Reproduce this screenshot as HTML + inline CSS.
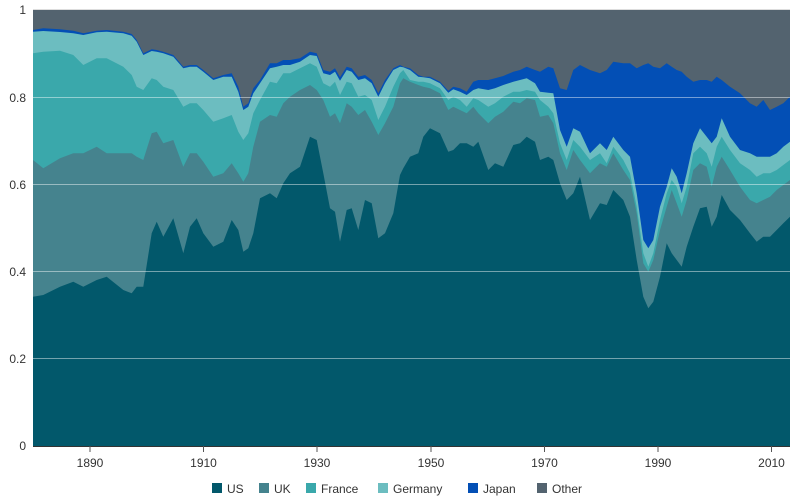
<!DOCTYPE html>
<html><head><meta charset="utf-8"><style>
body{margin:0;background:#fff;font-family:"Liberation Sans",sans-serif;}
svg text{font-family:"Liberation Sans",sans-serif;font-size:12px;fill:#333}
</style></head><body>
<svg id="s" width="800" height="499" xmlns="http://www.w3.org/2000/svg">
<rect x="33" y="10" width="757" height="436" fill="#53636f"/>
<g id="areas"></g>
<g stroke="rgba(255,255,255,0.45)" stroke-width="1">
<line x1="33" x2="790" y1="97.5" y2="97.5"/><line x1="33" x2="790" y1="184.5" y2="184.5"/>
<line x1="33" x2="790" y1="271.5" y2="271.5"/><line x1="33" x2="790" y1="358.5" y2="358.5"/>
</g>
<line x1="33" x2="790" y1="446.5" y2="446.5" stroke="#333"/>
<line x1="33" x2="790" y1="9.5" y2="9.5" stroke="#ddd"/>
<g text-anchor="end">
<text x="26" y="450">0</text><text x="26" y="363">0.2</text><text x="26" y="276">0.4</text>
<text x="26" y="189">0.6</text><text x="26" y="102">0.8</text><text x="26" y="14">1</text>
</g>
<g stroke="#555"><line x1="90" x2="90" y1="446" y2="452"/><line x1="203.5" x2="203.5" y1="446" y2="452"/><line x1="317" x2="317" y1="446" y2="452"/><line x1="431" x2="431" y1="446" y2="452"/><line x1="544.5" x2="544.5" y1="446" y2="452"/><line x1="658" x2="658" y1="446" y2="452"/><line x1="771.5" x2="771.5" y1="446" y2="452"/></g>
<g text-anchor="middle">
<text x="90" y="467">1890</text><text x="203.5" y="467">1910</text><text x="317" y="467">1930</text><text x="431" y="467">1950</text><text x="544.5" y="467">1970</text><text x="658" y="467">1990</text><text x="771.5" y="467">2010</text>
</g>
<g>
<rect x="212" y="483" width="10" height="10" fill="#02586b"/><text x="227" y="493">US</text>
<rect x="259" y="483" width="10" height="10" fill="#45838e"/><text x="274" y="493">UK</text>
<rect x="306" y="483" width="10" height="10" fill="#3aa8ab"/><text x="321" y="493">France</text>
<rect x="378" y="483" width="10" height="10" fill="#6cbdc0"/><text x="393" y="493">Germany</text>
<rect x="468" y="483" width="10" height="10" fill="#034fb5"/><text x="483" y="493">Japan</text>
<rect x="537" y="483" width="10" height="10" fill="#53636f"/><text x="552" y="493">Other</text>
</g>
</svg>
<script>
var z1=[[10,90,95,160,480,890],[40,85,93,155,505,885],[90,88,96,152,475,860],[130,92,100,165,460,845],[160,100,105,195,460,860],[200,92,97,175,440,840],[230,90,95,175,460,830],[280,95,100,200,460,870],[305,102,107,225,460,880],[320,120,125,260,470,860],[340,160,165,270,480,860],[365,148,153,235,400,700],[380,150,155,240,395,665],[400,155,160,260,430,710],[430,165,170,270,420,655],[460,200,205,320,500,760],[480,195,200,310,460,680],[500,195,200,310,460,655],[520,210,215,330,485,700],[550,235,240,365,530,740],[580,225,230,355,520,725],[605,220,230,345,490,660],[625,260,275,395,520,690],[640,320,330,420,545,755],[655,310,320,400,520,745],[670,265,280,340,440,700],[690,240,250,300,365,595],[720,190,205,245,345,580],[740,190,200,250,350,595],[760,180,195,220,310,550]];
var z2=[[0,180,195,220,290,520],[30,175,185,205,270,500],[60,155,165,190,255,410],[80,160,168,200,270,420],[100,210,220,250,300,520],[120,215,225,260,350,625],[135,205,215,245,340,635],[150,232,242,285,370,725],[170,200,210,245,310,630],[185,205,215,250,320,625],[205,230,240,290,345,690],[225,225,235,285,330,600],[245,240,250,300,365,610],[265,280,290,360,405,715],[285,240,250,320,370,700],[310,205,210,260,320,640],[330,195,200,220,250,525],[340,200,202,210,235,505],[360,205,210,240,245,470],[385,225,230,245,255,460],[400,230,232,245,260,410],[420,230,235,250,265,385],[450,245,250,265,280,400],[475,272,278,300,330,455],[490,260,268,290,320,450],[510,265,275,300,330,430],[530,275,285,320,340,430],[550,245,270,295,320,440],[565,240,265,300,340,425],[595,240,270,320,370,510],[615,235,265,310,350,490],[640,228,255,290,335,500],[670,215,245,275,305,435],[690,210,240,275,310,430],[710,200,235,270,295,410],[735,210,250,275,300,425],[750,215,275,300,350,480],[775,200,278,320,345,470],[790,205,280,340,370,480]];
var z3=[[60,265,390,430,460,550],[80,270,440,480,510,600],[100,210,385,420,450,580],[120,195,395,440,480,530],[150,210,460,480,520,660],[180,220,430,460,490,610],[200,210,450,490,500,615],[220,185,410,440,460,570],[250,190,450,480,510,600],[270,190,470,520,540,650],[290,205,580,620,640,780],[310,195,720,760,790,890],[325,190,745,800,815,925],[340,200,720,760,780,905],[360,205,620,660,690,830],[380,190,560,580,620,730],[395,200,505,540,570,760],[410,210,530,560,610,780],[425,215,580,610,650,800],[440,230,520,560,600,740],[460,245,430,460,510,680],[480,240,385,440,490,625],[500,240,410,460,500,620],[515,245,430,500,560,680],[530,230,410,440,500,650],[545,240,355,410,470,585],[570,260,410,450,510,630],[600,280,450,490,560,660],[630,310,460,510,600,700],[650,320,470,530,610,725],[670,300,470,520,600,710],[690,330,470,520,590,710],[710,320,460,510,570,690],[730,310,440,495,555,670],[750,290,425,480,540,650]];
var pts=[];
function add(a,off){a.forEach(function(r){pts.push([off+r[0]/3,r.slice(1).map(function(v){return v/3;})]);});}
add(z1,30);add(z2,290);add(z3,540);
pts[0][0]=33;pts[pts.length-1][0]=790;
var cols=["#034fb5","#6cbdc0","#3aa8ab","#45838e","#02586b"];
var g=document.getElementById("areas"),h="";
for(var k=0;k<5;k++){
 var d="M33,446";
 pts.forEach(function(p){d+=" L"+p[0].toFixed(1)+","+p[1][k].toFixed(1);});
 d+=" L790,446 Z";
 h+='<path d="'+d+'" fill="'+cols[k]+'"/>';
}
g.innerHTML=h;
</script>
</body></html>
